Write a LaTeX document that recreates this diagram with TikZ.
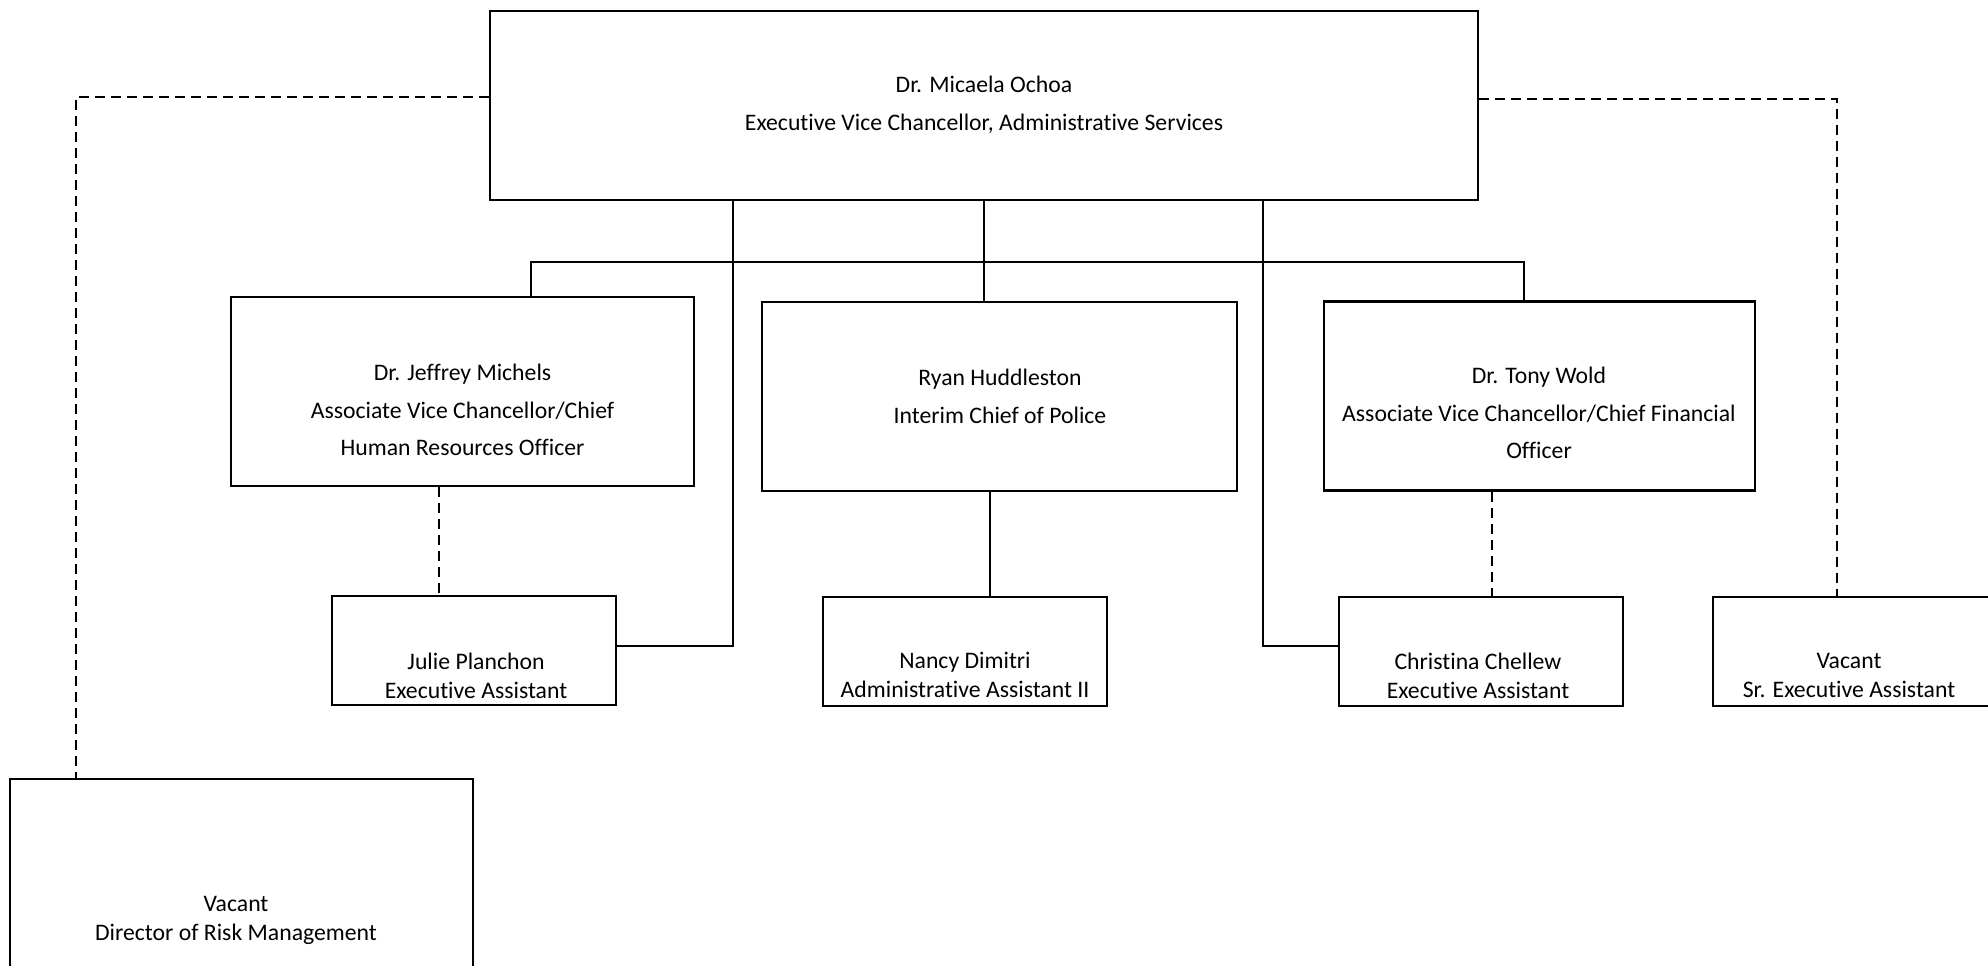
\documentclass[tikz,border=0pt]{standalone}
\usepackage{fontspec}
\setmainfont{Carlito}[Ligatures=NoCommon]
\usetikzlibrary{arrows}

\begin{document}
\begin{tikzpicture}[x=0.02cm, y=-0.02cm]
		\tikzstyle{bigbox} = [draw, line width=1.4pt, inner sep=0pt, minimum height=3.78cm]
		\tikzstyle{smallbox} = [draw, line width=0.7pt, inner sep=0pt, minimum height=2.18cm]
		\tikzstyle{bigtext} = [align=center, inner sep=0pt, font=\fontsize{13.5}{21.5}\selectfont]
		\tikzstyle{smalltext} = [align=center, inner sep=0pt, font=\fontsize{13.5}{16.5}\selectfont]
		\tikzstyle{solidline} = [line width=1.2pt]
		\tikzstyle{dashline} = [line width=1.2pt, dash pattern=on 0.2cm off 0.12cm]

		\clip (0,0) rectangle (1988,966);

		% boxes
		\node[bigbox, minimum width=19.76cm] (evc) at (984,105.5) {};
		\node[bigbox, minimum width=9.26cm] (jm) at (462.5,391.5) {};
		\node[bigbox, minimum width=9.5cm] (rh) at (999.5,396.5) {};
		\node[bigbox, minimum width=8.62cm] (tw) at (1539.5,396) {};
		\node[smallbox, minimum width=5.68cm] (jp) at (474,650.5) {};
		\node[smallbox, minimum width=5.68cm] (nd) at (965,651.5) {};
		\node[smallbox, minimum width=5.68cm] (cc) at (1481,651.5) {};
		\node[smallbox, minimum width=5.6cm] (sr) at (1853,651.5) {};
		\node[bigbox, minimum width=9.26cm, minimum height=5.64cm] (dir) at (241.5,920) {};

		% texts
		\node[bigtext] (evc-t) at (984,105) {Dr. Micaela Ochoa\\Executive Vice Chancellor, Administrative Services};
		\node[bigtext] (jm-t) at (462.5,410) {Dr. Jeffrey Michels\\Associate Vice Chancellor/Chief\\Human Resources Officer};
		\node[bigtext] (rh-t) at (1000,396) {Ryan Huddleston\\Interim Chief of Police};
		\node[bigtext] (tw-t) at (1539,413) {Dr. Tony Wold\\Associate Vice Chancellor/Chief Financial\\Officer};
		\node[smalltext] (jp-t) at (476,676) {Julie Planchon\\Executive Assistant};
		\node[smalltext] (nd-t) at (965,675) {Nancy Dimitri\\Administrative Assistant II};
		\node[smalltext] (cc-t) at (1478,676) {Christina Chellew\\Executive Assistant};
		\node[smalltext] (sr-t) at (1849,675) {Vacant\\Sr. Executive Assistant};
		\node[smalltext] (dir-t) at (236,920) {Vacant\\Director of Risk Management};

		% solid reporting lines
		\coordinate (busL) at (531,262);
		\coordinate (busR) at (1524,262);
		\coordinate (jpk) at (733,646);
		\coordinate (cck) at (1263,646);
		\coordinate (ndk) at (990,540);
		\draw[solidline] (jm.north -| busL) -- (busL) -- (busR) -- (tw.north -| busR);
		\draw[solidline] (evc.south) -- (evc.south |- rh.north);
		\draw[solidline] (evc.south -| jpk) -- (jpk) -- (jpk -| jp.east);
		\draw[solidline] (evc.south -| cck) -- (cck) -- (cck -| cc.west);
		\draw[solidline] (rh.south -| ndk) -- (nd.north -| ndk);

		% dashed lines
		\coordinate (jpd) at (439,540);
		\coordinate (ccd) at (1492,540);
		\coordinate (dirk) at (76,97);
		\coordinate (srk) at (1837,99);
		\draw[dashline] (jm.south -| jpd) -- (jp.north -| jpd);
		\draw[dashline] (tw.south -| ccd) -- (cc.north -| ccd);
		\draw[dashline] (evc.west |- dirk) -- (dirk) -- (dir.north -| dirk);
		\draw[dashline] (evc.east |- srk) -- (srk) -- (sr.north -| srk);

		\end{tikzpicture}
\end{document}
